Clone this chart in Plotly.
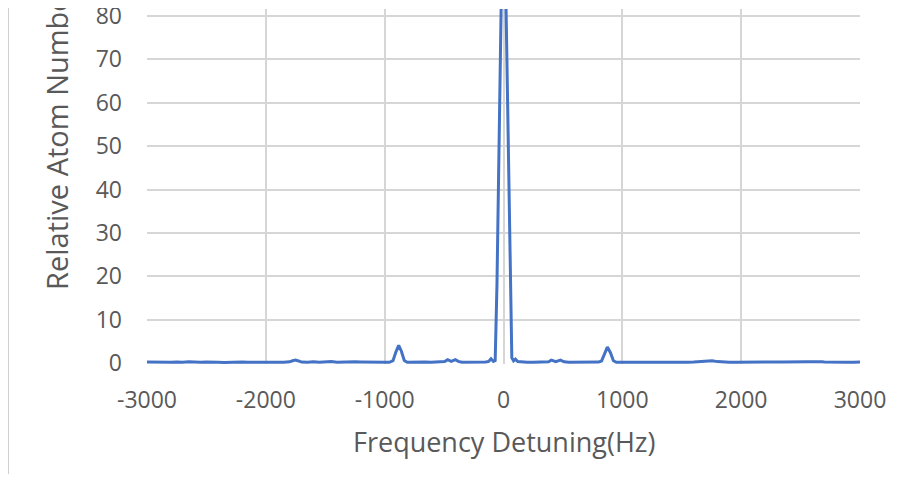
import plotly.graph_objects as go

freq_hz = [
    -3000, -2950, -2900, -2850, -2800, -2750, -2700, -2650, -2600, -2550,
    -2500, -2450, -2400, -2350, -2300, -2250, -2200, -2150, -2100, -2050,
    -2000, -1950, -1900, -1850, -1800, -1775, -1750, -1725, -1700, -1650,
    -1600, -1550, -1500, -1450, -1400, -1350, -1300, -1250, -1200, -1150,
    -1100, -1050, -1000, -960, -930, -905, -882, -860, -835, -810,
    -760, -710, -660, -610, -560, -520, -495, -470, -440, -405,
    -380, -350, -300, -250, -200, -150, -125, -105, -85, -70,
    -55, -40, -25, -10, 0, 10, 25, 40, 55, 70,
    85, 100, 120, 150, 200, 250, 300, 350, 380, 403,
    440, 479, 510, 550, 600, 650, 700, 750, 800, 825,
    850, 874, 900, 925, 950, 1000, 1050, 1100, 1150, 1200,
    1250, 1300, 1350, 1400, 1450, 1500, 1550, 1600, 1650, 1700,
    1756, 1800, 1850, 1900, 1950, 2000, 2050, 2100, 2150, 2200,
    2230, 2260, 2300, 2350, 2400, 2450, 2500, 2550, 2600, 2640,
    2680, 2700, 2750, 2800, 2850, 2900, 2950, 3000,
]

atom_number = [
    0.25, 0.20, 0.15, 0.22, 0.18, 0.28, 0.20, 0.30, 0.22, 0.18,
    0.25, 0.30, 0.20, 0.15, 0.25, 0.20, 0.28, 0.18, 0.22, 0.15,
    0.20, 0.18, 0.22, 0.20, 0.30, 0.55, 0.70, 0.50, 0.25, 0.22,
    0.30, 0.20, 0.25, 0.40, 0.22, 0.30, 0.25, 0.32, 0.28, 0.30,
    0.25, 0.30, 0.22, 0.20, 0.55, 2.60, 4.10, 2.80, 0.60, 0.20,
    0.25, 0.20, 0.28, 0.22, 0.25, 0.30, 0.35, 0.80, 0.40, 0.80,
    0.40, 0.22, 0.20, 0.25, 0.20, 0.28, 0.40, 1.00, 0.40, 0.60,
    18.0, 48.0, 76.0, 100.0, 108.0, 100.0, 76.0, 50.0, 21.0, 1.20,
    0.50, 0.90, 0.35, 0.25, 0.20, 0.22, 0.20, 0.25, 0.30, 0.70,
    0.35, 0.70, 0.30, 0.20, 0.22, 0.25, 0.20, 0.22, 0.25, 0.50,
    2.30, 3.70, 2.40, 0.55, 0.20, 0.15, 0.20, 0.18, 0.22, 0.20,
    0.25, 0.22, 0.20, 0.25, 0.22, 0.25, 0.20, 0.25, 0.30, 0.35,
    0.55, 0.35, 0.20, 0.22, 0.18, 0.20, 0.22, 0.20, 0.25, 0.30,
    0.38, 0.25, 0.28, 0.25, 0.30, 0.22, 0.25, 0.30, 0.32, 0.38,
    0.30, 0.25, 0.20, 0.25, 0.18, 0.22, 0.20, 0.25,
]

x_ticks = [-3000, -2000, -1000, 0, 1000, 2000, 3000]
x_tick_labels = ["-3000", "-2000", "-1000", "0", "1000", "2000", "3000"]
y_ticks = [0, 10, 20, 30, 40, 50, 60, 70, 80]
y_tick_labels = ["0", "10", "20", "30", "40", "50", "60", "70", "80"]

FONT = "Open Sans"
TXT = "#595959"
GRID = "#D6D6D6"

fig = go.Figure()
fig.add_trace(go.Scatter(
    x=freq_hz, y=atom_number, mode="lines",
    line=dict(color="#4472C4", width=3),
    hoverinfo="skip", showlegend=False,
))

fig.update_layout(
    width=884, height=466,
    margin=dict(l=139, r=32, t=1, b=110, autoexpand=False),
    paper_bgcolor="white", plot_bgcolor="white",
    font=dict(family=FONT, color=TXT),
    xaxis=dict(
        range=[-3000, 3000], tickvals=x_ticks, ticktext=x_tick_labels,
        showgrid=True, gridcolor=GRID, gridwidth=1.5,
        zeroline=False, showline=False, ticks="", automargin=False,
        tickfont=dict(family=FONT, size=23, color=TXT),
        ticklabelstandoff=20, ticklabeloverflow="allow",
    ),
    yaxis=dict(
        range=[-0.2, 81.6], tickvals=y_ticks, ticktext=y_tick_labels,
        showgrid=True, gridcolor=GRID, gridwidth=1.5,
        zeroline=False, showline=False, ticks="", automargin=False,
        tickfont=dict(family=FONT, size=23, color=TXT),
        ticklabelstandoff=24, ticklabeloverflow="allow",
    ),
    shapes=[dict(
        type="line", xref="paper", yref="paper",
        x0=-0.195, x1=-0.195, y0=1.03, y1=-0.4,
        line=dict(color="#D0D0D0", width=2),
    )],
    annotations=[
        dict(
            text="Relative Atom Number", textangle=-90,
            xref="paper", yref="paper", x=-0.126, y=0.202,
            xanchor="center", yanchor="bottom", showarrow=False,
            font=dict(family=FONT, size=29, color=TXT),
        ),
        dict(
            text="Frequency Detuning(Hz)",
            xref="paper", yref="paper", x=0.5, y=-0.218,
            xanchor="center", yanchor="middle", showarrow=False,
            font=dict(family=FONT, size=27, color=TXT),
        ),
    ],
)

fig.write_html("out.html")
